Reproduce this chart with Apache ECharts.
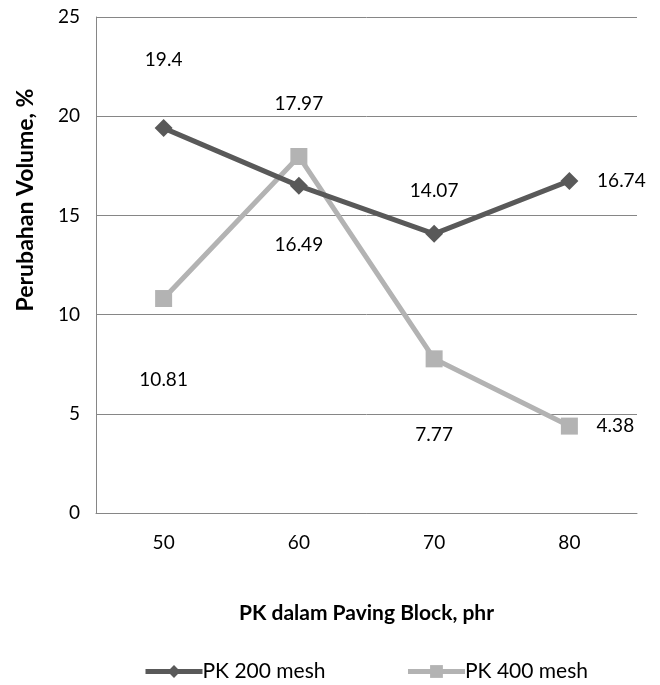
<!DOCTYPE html>
<html>
<head>
<meta charset="utf-8">
<script src="https://cdn.jsdelivr.net/npm/echarts@6/dist/echarts.min.js"></script>
<style>html,body{margin:0;padding:0;background:#fff}#c{width:660px;height:685px}</style>
</head>
<body>
<div id="c"></div>
<script>
var categories = ['50', '60', '70', '80'];
var pk200 = [19.4, 16.49, 14.07, 16.74];
var pk400 = [10.81, 17.97, 7.77, 4.38];
var seriesNames = ['PK 200 mesh', 'PK 400 mesh'];
var yTicks = [0, 5, 10, 15, 20, 25];

var FONT = 'Lato, "Open Sans", sans-serif';
// label offsets (styling) for each point
var off200 = [[0, -68], [0, 59], [0, -43], [52, 0]];
var off400 = [[0, 81], [0, -53], [0, 76], [46, 0]];

function build(vals, offs) {
  return vals.map(function (v, i) {
    return { value: v, label: { offset: offs[i] } };
  });
}

var chart = echarts.init(document.getElementById('c'));
chart.setOption({
  animation: false,
  textStyle: { fontFamily: FONT },
  grid: { left: 96, right: 23, top: 17, bottom: 172 },
  graphic: [{
    type: 'text', x: 26, y: 200, rotation: Math.PI / 2,
    style: { text: 'Perubahan Volume, %', font: 'bold 23px ' + FONT, fill: '#000',
      textAlign: 'center', textVerticalAlign: 'middle' }
  }],
  xAxis: {
    type: 'category', data: categories,
    name: 'PK dalam Paving Block, phr', nameLocation: 'middle', nameGap: 90,
    nameTextStyle: { fontSize: 21, fontWeight: 'bold', color: '#000', fontFamily: FONT },
    axisLine: { lineStyle: { color: '#868686', width: 1 } },
    axisTick: { show: false },
    axisLabel: { fontSize: 19, color: '#000', margin: 20, fontFamily: FONT }
  },
  yAxis: {
    type: 'value', min: yTicks[0], max: yTicks[yTicks.length - 1], interval: 5,
    axisLine: { show: true, lineStyle: { color: '#868686', width: 1 } },
    axisTick: { show: false },
    splitLine: { lineStyle: { color: '#868686', width: 1 } },
    axisLabel: { fontSize: 19, color: '#000', margin: 16, fontFamily: FONT }
  },
  legend: {
    top: 661, left: 143, itemWidth: 57, itemHeight: 16, itemGap: 80, padding: 0,
    textStyle: { fontSize: 21, color: '#000', fontFamily: FONT, padding: [0, 0, 0, -5] },
    lineStyle: { width: 5 },
    data: seriesNames
  },
  series: [{
    name: seriesNames[0], type: 'line', data: build(pk200, off200),
    symbol: 'diamond', symbolSize: 18,
    lineStyle: { color: '#595959', width: 5 },
    itemStyle: { color: '#595959' },
    label: { show: true, position: 'inside', fontSize: 19, color: '#000', fontFamily: FONT },
    z: 3
  }, {
    name: seriesNames[1], type: 'line', data: build(pk400, off400),
    symbol: 'rect', symbolSize: 17,
    lineStyle: { color: '#b3b3b3', width: 5 },
    itemStyle: { color: '#b3b3b3' },
    label: { show: true, position: 'inside', fontSize: 19, color: '#000', fontFamily: FONT },
    z: 2
  }]
});
</script>
</body>
</html>
